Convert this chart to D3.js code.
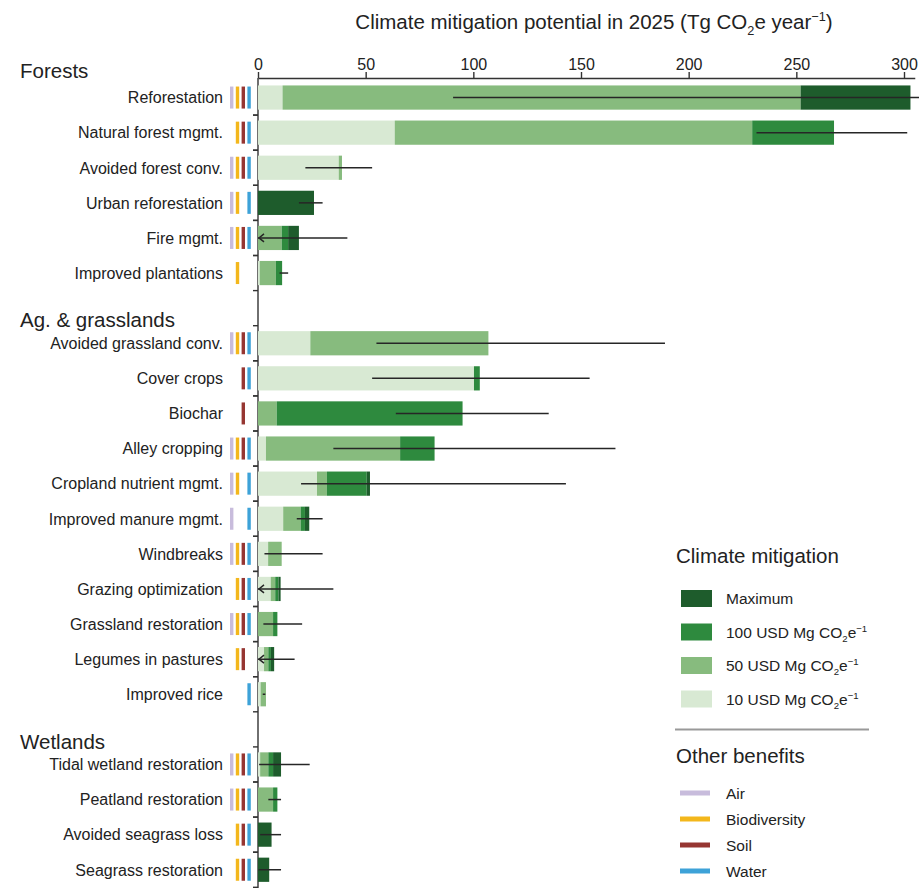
<!DOCTYPE html>
<html>
<head>
<meta charset="utf-8">
<script src="https://cdn.jsdelivr.net/npm/d3@7"></script>
<style>
  body { margin: 0; background: #fff; }
  svg { display: block; font-family: "Liberation Sans", Arial, Helvetica, sans-serif; }
</style>
</head>
<body>
<svg id="chart" width="919" height="888"></svg>
<script>
// ---- data -------------------------------------------------------------
const sections = ["Forests", "Ag. & grasslands", "Wetlands"];

const categories = [
  "Reforestation", "Natural forest mgmt.", "Avoided forest conv.", "Urban reforestation",
  "Fire mgmt.", "Improved plantations",
  "Avoided grassland conv.", "Cover crops", "Biochar", "Alley cropping",
  "Cropland nutrient mgmt.", "Improved manure mgmt.", "Windbreaks", "Grazing optimization",
  "Grassland restoration", "Legumes in pastures", "Improved rice",
  "Tidal wetland restoration", "Peatland restoration", "Avoided seagrass loss", "Seagrass restoration"
];
const sectionIndex = [0,0,0,0,0,0, 1,1,1,1,1,1,1,1,1,1,1, 2,2,2,2];

// cumulative mitigation (Tg CO2e / yr) at each cost threshold
const usd10   = [11.4, 63.5, 37.5, 0,    0,    0.8, 24.3, 100.3, 0,   3.7, 27.4, 11.7, 4.7, 5.9, 0,   2.8, 1.2, 1.0, 0,   0,   0];
const usd50   = [252,  229.5, 39,  0,    11,   8.3, 107,  100.3, 8.7, 66,  32,   19.8, 11,  8,   7,   4.8, 3.7, 4.8, 7,   0,   0];
const usd100  = [252,  267.5, 39,  0,    14,   11.2, 107, 103,   95,  82,  50.5, 21.8, 11,  9.5, 9,   6,   3.7, 7,   9,   0,   0];
const maximum = [303,  267.5, 39,  26,   19,   11.2, 107, 103,   95,  82,  52,   23.8, 11,  10.5, 9,  7.5, 3.7, 10.7, 9,  6.3, 5.2];

// uncertainty range of the maximum estimate
const ciLow   = [90.6, 231.5, 22, 19, 0,    10,  55,  53,  64,  35,  20,  18,  3,  0,  2.5, 0,  2.2, 0.5, 4.8, 1,  0.3];
const ciHigh  = [308,  301.5, 53, 30, 41.5, 14,  189, 154, 135, 166, 143, 30,  30, 35, 20.5, 17, 3.4, 24, 10.7, 10.7, 10.7];
const ciLowOpen = [0,0,0,0,1,0, 0,0,0,0,0,0,0,1,0,1,0, 0,0,0,0];

// co-benefits per pathway
const benefitAir   = [1,0,1,1,1,0, 1,0,0,1,1,1,1,0,1,0,0, 1,1,0,0];
const benefitBio   = [1,1,1,1,1,1, 1,0,0,1,1,0,1,1,1,1,0, 1,1,1,1];
const benefitSoil  = [1,1,1,0,1,0, 1,1,1,1,0,0,1,1,1,1,0, 1,1,1,1];
const benefitWater = [1,1,1,1,1,0, 1,1,0,1,1,1,1,1,1,0,1, 1,1,1,1];

const xTicks = [0, 50, 100, 150, 200, 250, 300];

const tierNames = ["Maximum", "100 USD Mg CO|2|e|-1", "50 USD Mg CO|2|e|-1", "10 USD Mg CO|2|e|-1"];
const benefitNames = ["Air", "Biodiversity", "Soil", "Water"];

// ---- styling ----------------------------------------------------------
const tierColors = ["#1e5c2c", "#2e8a3e", "#87bb7e", "#d8e9d3"]; // max, 100, 50, 10
const benefitColors = ["#c8bcdc", "#f3b71c", "#963632", "#3da2d8"];
const ink = "#222";

const svg = d3.select("#chart");

// ---- scales -----------------------------------------------------------
const x = d3.scaleLinear().domain([0, 305]).range([258, 258 + 305 * 646 / 300]);

// one slot per pathway, plus a spacer slot ahead of each new section
const slots = [];
categories.forEach((c, i) => {
  if (i > 0 && sectionIndex[i] !== sectionIndex[i - 1]) slots.push("__gap" + sectionIndex[i]);
  slots.push(c);
});
const y = d3.scaleBand().domain(slots).range([80, 887.3]).paddingInner(0.31).paddingOuter(0.155);
const step = y.step(), bw = y.bandwidth();
const yc = c => y(c) + bw / 2;

// ---- rich text helper (sub / superscripts) ------------------------------
function richText(sel, spec, size) {
  // spec: "text|sub|text|sup" alternating normal / sub / normal / sup
  const parts = spec.split("|");
  let offset = 0;
  parts.forEach((p, k) => {
    let kind = "n";
    if (k % 4 === 1) kind = "sub";
    if (k % 4 === 3) kind = "sup";
    let target = 0;
    if (kind === "sub") target = size * 0.28;
    if (kind === "sup") target = -size * 0.38;
    const t = sel.append("tspan").text(p.replace("-", "\u2212"))
      .attr("dy", target - offset);
    if (kind !== "n") t.attr("font-size", size * 0.62);
    offset = target;
  });
}

// ---- title ------------------------------------------------------------
const title = svg.append("text")
  .attr("x", 594).attr("y", 29).attr("text-anchor", "middle")
  .attr("font-size", 20.5).attr("fill", ink);
richText(title, "Climate mitigation potential in 2025 (Tg CO|2|e year|-1|)", 20.5);

// ---- top axis -----------------------------------------------------------
const axisY = 78;
const gx = svg.append("g").attr("transform", `translate(0,${axisY})`)
  .call(d3.axisTop(x).tickValues(xTicks).tickSize(6).tickSizeOuter(0).tickPadding(2));
gx.select(".domain").attr("stroke", "#333").attr("stroke-width", 1.4);
gx.selectAll(".tick line").attr("stroke", "#333").attr("stroke-width", 1.4);
gx.selectAll(".tick text").attr("font-size", 16).attr("fill", ink)
  .attr("font-family", '"Liberation Sans", Arial, sans-serif');

// vertical baseline axis
svg.append("line")
  .attr("x1", x(0)).attr("x2", x(0)).attr("y1", axisY).attr("y2", 888)
  .attr("stroke", "#333").attr("stroke-width", 1.4);

// band-edge ticks on the vertical axis
const edgeYs = [];
categories.forEach(c => {
  edgeYs.push(y(c) - step * 0.155, y(c) + bw + step * 0.155);
});
svg.append("g").selectAll("line").data(edgeYs.filter(v => v > axisY + 4)).join("line")
  .attr("x1", x(0) - 5).attr("x2", x(0)).attr("y1", d => d).attr("y2", d => d)
  .attr("stroke", "#333").attr("stroke-width", 1.4);

// ---- section headers ----------------------------------------------------
sections.forEach((s, si) => {
  const first = categories[sectionIndex.indexOf(si)];
  svg.append("text").attr("x", 20).attr("y", yc(first) - (si === 0 ? 27 : 23))
    .attr("dy", "0.35em").attr("font-size", 20.5).attr("fill", ink).text(s);
});

// ---- row labels -----------------------------------------------------------
svg.append("g").selectAll("text").data(categories).join("text")
  .attr("x", 223).attr("y", d => yc(d)).attr("dy", "0.36em")
  .attr("text-anchor", "end").attr("font-size", 16).attr("fill", ink)
  .text(d => d);

// ---- co-benefit markers -------------------------------------------------
const benefitFlags = [benefitAir, benefitBio, benefitSoil, benefitWater];
const markers = [];
categories.forEach((c, i) => benefitFlags.forEach((arr, k) => { if (arr[i]) markers.push({ c, k }); }));
svg.append("g").selectAll("rect").data(markers).join("rect")
  .attr("x", d => 230 + d.k * 5.8).attr("width", 3.4)
  .attr("y", d => yc(d.c) - 11).attr("height", 22)
  .attr("fill", d => benefitColors[d.k]);

// ---- stacked cost-tier bars -------------------------------------------------
const segs = [];
categories.forEach((c, i) => {
  const edges = [0, usd10[i], usd50[i], usd100[i], maximum[i]];
  const colors = [tierColors[3], tierColors[2], tierColors[1], tierColors[0]];
  for (let k = 0; k < 4; k++) {
    if (edges[k + 1] > edges[k]) segs.push({ c, x0: edges[k], x1: edges[k + 1], fill: colors[k] });
  }
});
svg.append("g").selectAll("rect").data(segs).join("rect")
  .attr("x", d => x(d.x0)).attr("width", d => x(d.x1) - x(d.x0))
  .attr("y", d => y(d.c)).attr("height", bw)
  .attr("fill", d => d.fill);

// ---- uncertainty ranges -------------------------------------------------------
const gErr = svg.append("g").attr("stroke", "#262626").attr("stroke-width", 1.5).attr("fill", "none");
categories.forEach((c, i) => {
  gErr.append("line")
    .attr("x1", x(ciLow[i])).attr("x2", x(ciHigh[i]))
    .attr("y1", yc(c)).attr("y2", yc(c));
  if (ciLowOpen[i]) {
    const ax = x(ciLow[i]) + 1;
    gErr.append("path")
      .attr("d", `M${ax + 5},${yc(c) - 4} L${ax},${yc(c)} L${ax + 5},${yc(c) + 4}`)
      .attr("stroke-linejoin", "miter");
  }
});

// ---- legend -----------------------------------------------------------------
const lg = svg.append("g");
lg.append("text").attr("x", 676).attr("y", 563).attr("font-size", 20.5).attr("fill", ink)
  .text("Climate mitigation");
tierNames.forEach((name, k) => {
  const cy = 598.5 + k * 33.5;
  lg.append("rect").attr("x", 681).attr("y", cy - 8.5).attr("width", 31).attr("height", 17)
    .attr("fill", tierColors[k]);
  const t = lg.append("text").attr("x", 726).attr("y", cy + 5.5).attr("font-size", 15.5).attr("fill", ink);
  richText(t, name, 15.5);
});
lg.append("line").attr("x1", 675).attr("x2", 869).attr("y1", 729.5).attr("y2", 729.5)
  .attr("stroke", "#999").attr("stroke-width", 2);
lg.append("text").attr("x", 676).attr("y", 763).attr("font-size", 20.5).attr("fill", ink)
  .text("Other benefits");
benefitNames.forEach((name, k) => {
  const cy = 793 + k * 26;
  lg.append("rect").attr("x", 680).attr("y", cy - 2.5).attr("width", 30).attr("height", 5)
    .attr("fill", benefitColors[k]);
  lg.append("text").attr("x", 726).attr("y", cy + 5.5).attr("font-size", 15.5).attr("fill", ink)
    .text(name);
});
</script>
</body>
</html>
